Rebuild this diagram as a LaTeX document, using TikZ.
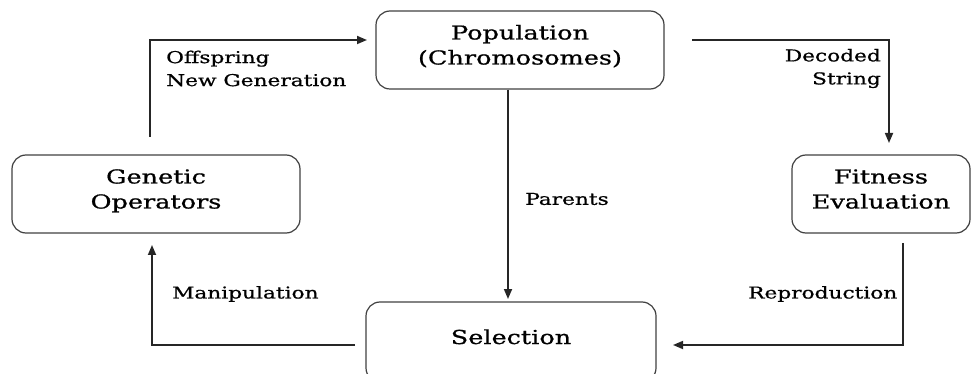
\documentclass[tikz,border=0pt]{standalone}
\usepackage{fontspec}
\setmainfont[FakeStretch=1.33,FakeBold=0.8]{DejaVu Serif}
\usetikzlibrary{arrows.meta}
\begin{document}
\begin{tikzpicture}[x=1pt,y=-1pt,
 box/.style={draw=black!75, line width=1.2pt, rounded corners=14pt, align=center, inner sep=0pt, text height=39pt, text depth=10pt, font=\fontsize{19.2}{25}\selectfont},
 lbl/.style={inner sep=0pt, font=\fontsize{16.3}{23}\selectfont},
 arr/.style={draw=black!85, line width=1.7pt, -{Triangle[length=10pt,width=8pt]}}]
\clip (0,0) rectangle (972,374);
\node[box, minimum width=288pt, minimum height=78pt] (pop) at (520,50) {Population\\(Chromosomes)};
\node[box, minimum width=288pt, minimum height=78pt] (gen) at (156,194) {Genetic\\Operators};
\node[box, minimum width=178pt, minimum height=78pt] (fit) at (881,194) {Fitness\\Evaluation};
\node[box, minimum width=290pt, minimum height=80pt, text height=14pt] (sel) at (511,342) {Selection};
\coordinate (o1) at (150,137);
\coordinate (o2) at (367,40);
\draw[arr] (o1) |- (o2);
\coordinate (d1) at (692,40);
\coordinate (d2) at (889,143);
\draw[arr] (d1) -| (d2);
\coordinate (p2) at (508,299);
\draw[arr] (pop.south -| p2) -- (p2);
\coordinate (r1) at (903,243);
\coordinate (r2) at (673,345);
\draw[arr] (r1) |- (r2);
\coordinate (m1) at (355,345);
\coordinate (m2) at (152,245);
\draw[arr] (m1) -| (m2);
\node[lbl, anchor=west, align=left] (loff) at (166,68.5) {Offspring\\New Generation};
\node[lbl, anchor=east, align=right] (ldec) at (881,68.5) {Decoded\\String};
\node[lbl, anchor=west] (lpar) at (525,199) {Parents};
\node[lbl, anchor=west] (lrep) at (748,294) {Reproduction};
\node[lbl, anchor=west] (lman) at (172,294) {Manipulation};
\end{tikzpicture}
\end{document}
